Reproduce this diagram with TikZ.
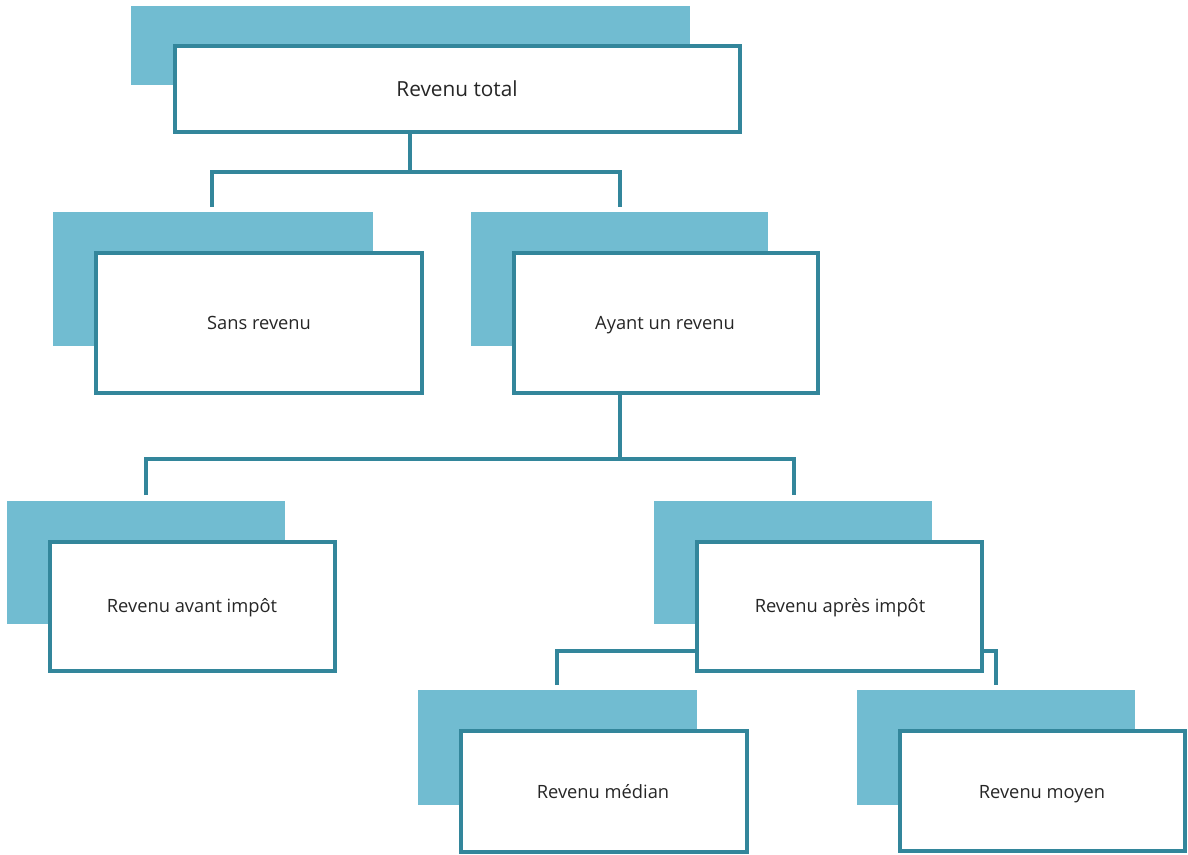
\documentclass[tikz,border=0pt]{standalone}
\usepackage{fontspec}
\setmainfont{Open Sans}
\definecolor{shade}{HTML}{71BCD1}
\definecolor{edge}{HTML}{33869B}
\begin{document}
\begin{tikzpicture}[x=1pt,y=-1pt,
  back/.style={fill=shade,draw=none},
  front/.style={fill=white,draw=edge,line width=3.2pt},
  lbl/.style={anchor=base,inner sep=0pt,font=\fontsize{18.3}{21}\selectfont,text=black!85},
  conn/.style={draw=edge,line width=3.4pt,line join=miter}]
\useasboundingbox (0,0) rectangle (1188,854);
% connectors (drawn first, boxes cover them)
\coordinate (t1) at (410,132);
\coordinate (t1m) at (410,172);
\coordinate (cL1) at (212,207);
\coordinate (cR1) at (620,207);
\draw[conn] (t1) -- (t1m);
\draw[conn] (cL1) |- (t1m) -| (cR1);
\coordinate (t2) at (620,393);
\coordinate (t2m) at (620,459);
\coordinate (cL2) at (146,495);
\coordinate (cR2) at (794,495);
\draw[conn] (t2) -- (t2m);
\draw[conn] (cL2) |- (t2m) -| (cR2);
\coordinate (t3m) at (840,651);
\coordinate (cL3) at (557,685);
\coordinate (cR3) at (996,685);
\draw[conn] (cL3) |- (t3m) -| (cR3);
% boxes
\fill[back] (131,6) rectangle (690,85);
\draw[front] (175,46) rectangle (740,132);
\node[lbl,font=\fontsize{20.8}{24}\selectfont] (total) at (457,96) {Revenu total};

\fill[back] (53,212) rectangle (373,346);
\draw[front] (96,253) rectangle (422,393);
\node[lbl] (sans) at (259,329) {Sans revenu};

\fill[back] (471,212) rectangle (768,346);
\draw[front] (514,253) rectangle (818,393);
\node[lbl] (ayant) at (665,329) {Ayant un revenu};

\fill[back] (7,501) rectangle (285,624);
\draw[front] (50,542) rectangle (335,671);
\node[lbl] (avant) at (192,612) {Revenu avant impôt};

\fill[back] (654,501) rectangle (932,624);
\draw[front] (697,542) rectangle (982,671);
\node[lbl] (apres) at (840,612) {Revenu après impôt};

\fill[back] (418,690) rectangle (697,805);
\draw[front] (461,731) rectangle (747,852);
\node[lbl] (median) at (603,798) {Revenu médian};

\fill[back] (857,690) rectangle (1135,805);
\draw[front] (900,731) rectangle (1185,851);
\node[lbl] (moyen) at (1042,798) {Revenu moyen};
\end{tikzpicture}
\end{document}
